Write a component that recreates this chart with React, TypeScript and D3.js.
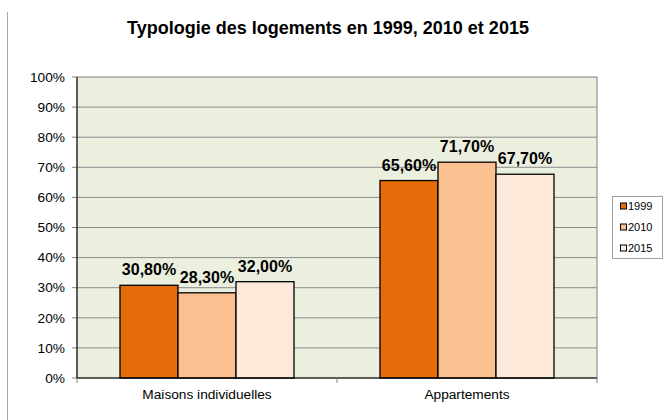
import React from 'react';
import * as d3 from 'd3';

const categories = ['Maisons individuelles', 'Appartements'];
const years = ['1999', '2010', '2015'];
const values1999 = [30.8, 65.6];
const values2010 = [28.3, 71.7];
const values2015 = [32.0, 67.7];
const yTicks = [0, 10, 20, 30, 40, 50, 60, 70, 80, 90, 100];

const COLORS = ['#e46c0a', '#fac090', '#fde9d9'];
const FONT = '"Liberation Sans", Arial, sans-serif';

const W = 664;
const H = 420;
const plot = { left: 77, right: 597, top: 77, bottom: 378 };

const fmt = (v: number) => v.toFixed(2).replace('.', ',') + '%';

const App = () => {
  const series = [values1999, values2010, values2015];
  const x = d3
    .scaleBand()
    .domain(categories)
    .range([plot.left, plot.right]);
  const inner = d3
    .scaleBand()
    .domain(years)
    .range([0, x.bandwidth()])
    .paddingOuter(43 / 58)
    .paddingInner(0);
  const y = d3.scaleLinear().domain([0, 100]).range([plot.bottom, plot.top]);

  return (
    <svg width={W} height={H} style={{ position: 'absolute', left: 0, top: 0 }} fontFamily={FONT}>
      <rect x={0} y={0} width={W} height={H} fill="#fff" />
      <line x1={7.5} x2={7.5} y1={12} y2={H} stroke="#a6a6a6" />
      <text x={328} y={34} textAnchor="middle" fontSize={18} fontWeight="bold" fill="#000">
        Typologie des logements en 1999, 2010 et 2015
      </text>

      <rect
        x={plot.left}
        y={plot.top}
        width={plot.right - plot.left}
        height={plot.bottom - plot.top}
        fill="#ebefde"
        stroke="#808080"
      />
      {yTicks.map(t => (
        <g key={t}>
          {t > 0 && t < 100 && (
            <line x1={plot.left} x2={plot.right} y1={y(t)} y2={y(t)} stroke="#8c8c8c" />
          )}
          <line x1={plot.left - 5} x2={plot.left} y1={y(t)} y2={y(t)} stroke="#808080" />
          <text x={65} y={y(t)} dy="0.35em" textAnchor="end" fontSize={13.7} fill="#000">
            {t}%
          </text>
        </g>
      ))}

      {categories.map((c, ci) => (
        <g key={c} transform={`translate(${x(c)},0)`}>
          {series.map((s, si) => (
            <rect
              key={si}
              x={inner(years[si])}
              y={y(s[ci])}
              width={inner.bandwidth()}
              height={plot.bottom - y(s[ci])}
              fill={COLORS[si]}
              stroke="#000"
              strokeWidth={1.3}
            />
          ))}
          {series.map((s, si) => (
            <text
              key={'l' + si}
              x={(inner(years[si]) as number) + inner.bandwidth() / 2}
              y={y(s[ci]) - 10}
              textAnchor="middle"
              fontSize={16}
              fontWeight="bold"
              fill="#000"
            >
              {fmt(s[ci])}
            </text>
          ))}
          <text x={x.bandwidth() / 2} y={399} textAnchor="middle" fontSize={13.7} fill="#000">
            {c}
          </text>
        </g>
      ))}

      <line x1={plot.left} x2={plot.left} y1={plot.top} y2={plot.bottom} stroke="#000" />
      <line x1={plot.left} x2={plot.right} y1={plot.bottom} y2={plot.bottom} stroke="#000" />
      {[plot.left, plot.left + x.bandwidth(), plot.right].map((t, i) => (
        <line key={i} x1={t} x2={t} y1={plot.bottom} y2={plot.bottom + 5} stroke="#808080" />
      ))}

      <rect x={612.5} y={196.5} width={50} height={62} fill="#fff" stroke="#a0a0a0" />
      {years.map((yr, i) => (
        <g key={yr} transform={`translate(620,${206 + i * 21})`}>
          <rect x={0.5} y={-3} width={6} height={6} fill={COLORS[i]} stroke="#000" />
          <text x={8} y={0} dy="0.35em" fontSize={11} fill="#000">
            {yr}
          </text>
        </g>
      ))}
    </svg>
  );
};

export default App;
